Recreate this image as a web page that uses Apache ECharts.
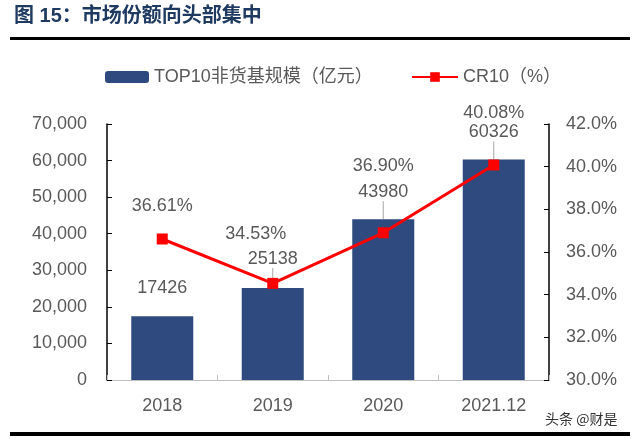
<!DOCTYPE html>
<html>
<head>
<meta charset="utf-8">
<title>市场份额向头部集中</title>
<script src="https://cdn.jsdelivr.net/npm/echarts@6/dist/echarts.min.js"></script>
<style>
  html, body { margin: 0; padding: 0; background: #fff; }
  #chart { width: 640px; height: 441px; }
</style>
</head>
<body>
<div id="chart"></div>
<script>
const categories = ['2018', '2019', '2020', '2021.12'];
const fundScale = [17426, 25138, 43980, 60326];   // TOP10非货基规模（亿元）
const cr10 = [36.61, 34.53, 36.90, 40.08];         // CR10（%）

// label placement tweaks (px), kept apart from the data
const barLabelDy = [-14, -15, -13, -13];
const pctLabelShift = [[0, -13], [-17, -30], [0, -47], [0, -32]];

const gray = '#595959';
const font = 'Liberation Sans, Arial, Noto Sans CJK SC, sans-serif';

const chart = echarts.init(document.getElementById('chart'));

const option = {
  backgroundColor: '#fff',
  animation: false,
  textStyle: { fontFamily: font },
  graphic: [
    {
      type: 'text', left: 14, top: 6,
      style: { text: '图 15：市场份额向头部集中', font: 'bold 20px ' + font, fill: '#1F3A60' }
    },
    {
      type: 'rect', shape: { x: 10, y: 37, width: 620, height: 3 },
      style: { fill: '#000' }
    },
    {
      type: 'rect', shape: { x: 10, y: 432, width: 620, height: 4 },
      style: { fill: '#000' }
    },
    {
      type: 'text', left: 545, top: 412,
      style: { text: '头条 @财是', font: '14px Noto Sans CJK SC, sans-serif', fill: '#333' }
    }
  ],
  legend: [
    {
      data: ['TOP10非货基规模（亿元）'],
      left: 100, top: 63,
      itemWidth: 44, itemHeight: 12,
      textStyle: { color: gray, fontSize: 18 }
    },
    {
      data: ['CR10（%）'],
      left: 406, top: 63,
      itemWidth: 46, itemHeight: 12,
      textStyle: { color: gray, fontSize: 18 }
    }
  ],
  grid: { left: 107, right: 91, top: 124, bottom: 61 },
  xAxis: {
    type: 'category',
    data: categories,
    axisLine: { lineStyle: { color: '#BFBFBF', width: 1 } },
    axisTick: { show: true, inside: true, length: 5, lineStyle: { color: '#BFBFBF' } },
    axisLabel: { color: gray, fontSize: 18, margin: 17 }
  },
  yAxis: [
    {
      type: 'value', min: 0, max: 70000, interval: 10000,
      splitLine: { show: false },
      axisLine: { show: true, lineStyle: { color: '#000', width: 1.5 } },
      axisTick: { show: true, inside: true, length: 5, lineStyle: { color: '#000' } },
      axisLabel: {
        color: gray, fontSize: 18, margin: 20,
        formatter: v => v.toLocaleString('en-US')
      }
    },
    {
      type: 'value', min: 30, max: 42, interval: 2,
      position: 'right',
      splitLine: { show: false },
      axisLine: { show: true, lineStyle: { color: '#000', width: 1.5 } },
      axisTick: { show: true, inside: true, length: 5, lineStyle: { color: '#000' } },
      axisLabel: {
        color: gray, fontSize: 18, margin: 17,
        formatter: v => v.toFixed(1) + '%'
      }
    }
  ],
  series: [
    {
      name: 'TOP10非货基规模（亿元）',
      type: 'bar',
      barWidth: 62,
      itemStyle: { color: '#2E4A7E' },
      data: fundScale.map((v, i) => ({
        value: v,
        labelLine: { show: i > 0 }
      })),
      label: { show: true, position: 'top', color: gray, fontSize: 18 },
      labelLayout: p => ({ dy: barLabelDy[p.dataIndex] }),
      labelLine: { show: true, lineStyle: { color: '#A6A6A6', width: 1 } }
    },
    {
      name: 'CR10（%）',
      type: 'line',
      yAxisIndex: 1,
      symbol: 'rect',
      symbolSize: 11,
      lineStyle: { color: '#FF0000', width: 3 },
      itemStyle: { color: '#FF0000' },
      data: cr10.map((v, i) => ({
        value: v,
        label: { offset: pctLabelShift[i] }
      })),
      label: {
        show: true, position: 'top', color: gray, fontSize: 18,
        formatter: p => p.value.toFixed(2) + '%'
      }
    }
  ]
};

chart.setOption(option);
</script>
</body>
</html>
